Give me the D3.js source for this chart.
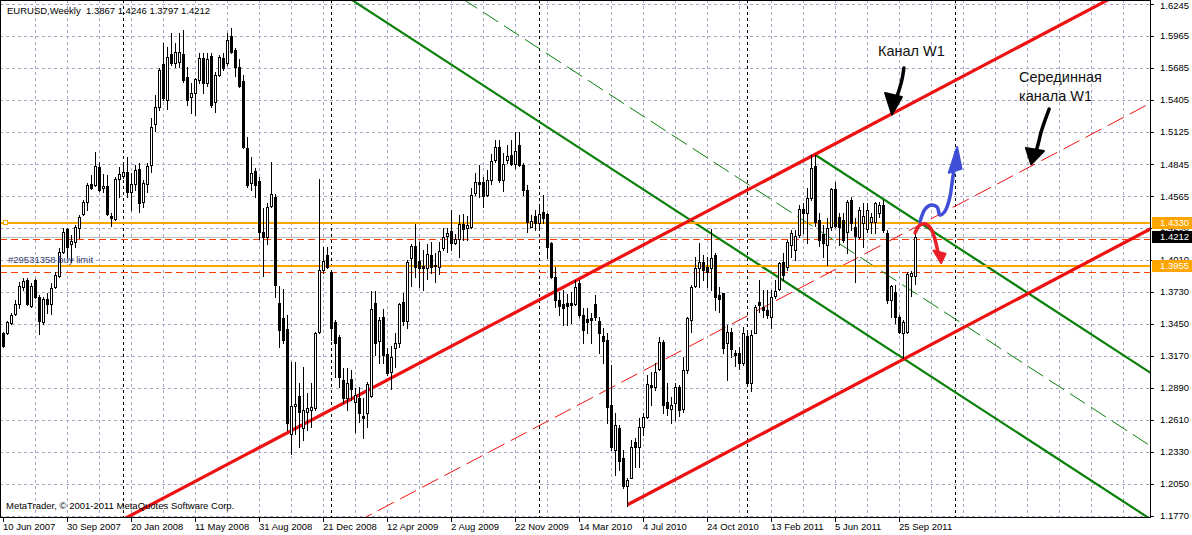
<!DOCTYPE html>
<html><head><meta charset="utf-8">
<script src="https://cdn.jsdelivr.net/npm/d3@7"></script>
<style>
html,body{margin:0;padding:0;background:#fff;}
svg{display:block;font-family:"Liberation Sans",Arial,sans-serif;}
text{white-space:pre;}
</style>
</head><body>
<svg id="c" width="1192" height="535"></svg>
<script>
// ---------------- DATA ----------------
const chartTitle = "EURUSD,Weekly  1.3867 1.4246 1.3797 1.4212";
const copyrightText = "MetaTrader, \u00a9 2001-2011 MetaQuotes Software Corp.";
const orderText = "#29531358 buy limit";

// weekly bars, index 0 = week of 10 Jun 2007
const opens = [1.3366,1.3366,1.3454,1.3533,1.3620,1.3769,1.3830,1.3603,1.3830,1.3681,
1.3463,1.3664,1.3620,1.3769,1.3865,1.4075,1.4276,1.4145,1.4163,1.4285,
1.4408,1.4513,1.4670,1.4661,1.4819,1.4635,1.4653,1.4390,1.4364,1.4714,
1.4740,1.4775,1.4600,1.4670,1.4801,1.4513,1.4670,1.4836,1.5195,1.5344,
1.5720,1.5405,1.5808,1.5729,1.5738,1.5808,1.5606,1.5431,1.5466,1.5580,
1.5773,1.5554,1.5790,1.5388,1.5624,1.5773,1.5729,1.5965,1.5843,1.5694,
1.5571,1.4985,1.4679,1.4784,1.4696,1.4250,1.4206,1.4478,1.4560,1.3629,
1.3500,1.3401,1.2491,1.2728,1.2815,1.2535,1.2675,1.2693,1.2710,1.3375,
1.3918,1.4049,1.3900,1.3463,1.3331,1.2955,1.2798,1.2964,1.2763,1.2798,
1.2640,1.2666,1.2815,1.3629,1.3296,1.3506,1.3183,1.3025,1.3235,1.3279,
1.3638,1.3471,1.4023,1.4128,1.3996,1.3953,1.3935,1.4049,1.3953,1.3944,
1.4110,1.4215,1.4259,1.4154,1.4189,1.4320,1.4285,1.4294,1.4591,1.4688,
1.4688,1.4574,1.4705,1.4880,1.4994,1.4705,1.4880,1.4924,1.4845,1.5011,
1.4836,1.4618,1.4294,1.4390,1.4329,1.4425,1.4408,1.4154,1.3856,1.3655,
1.3620,1.3629,1.3629,1.3620,1.3804,1.3524,1.3489,1.3498,1.3620,1.3471,
1.3340,1.3305,1.2736,1.2343,1.2535,1.2273,1.2036,1.2106,1.2413,1.2369,
1.2544,1.2631,1.2911,1.2894,1.3051,1.3288,1.2763,1.2701,1.2754,1.2894,
1.2701,1.3043,1.3480,1.3778,1.3935,1.3988,1.3944,1.3935,1.4049,1.3699,
1.3716,1.3279,1.3375,1.3191,1.3191,1.3104,1.3340,1.2929,1.3366,1.3638,
1.3594,1.3568,1.3506,1.3690,1.3751,1.3988,1.3944,1.4136,1.4093,1.4224,
1.4451,1.4416,1.4548,1.4828,1.4355,1.4233,1.4136,1.4294,1.4626,1.4381,
1.4355,1.4250,1.4530,1.4294,1.4206,1.4329,1.4276,1.4338,1.4338,1.4416,
1.4486,1.4241,1.3655,1.3725,1.3506,1.3366,1.3375,1.3865,1.3867];
const highs = [1.3375,1.3471,1.3541,1.3655,1.3813,1.3848,1.3848,1.3804,1.3839,1.3699,
1.3681,1.3716,1.3804,1.3900,1.4110,1.4285,1.4285,1.4224,1.4311,1.4399,
1.4530,1.4679,1.4749,1.4950,1.4863,1.4758,1.4749,1.4416,1.4731,1.4819,
1.4854,1.4906,1.4766,1.4836,1.4854,1.4705,1.4854,1.5248,1.5449,1.5685,
1.5904,1.5869,1.5991,1.5904,1.5991,1.6018,1.5694,1.5554,1.5598,1.5816,
1.5816,1.5816,1.5816,1.5650,1.5799,1.5816,1.5991,1.6035,1.5860,1.5764,
1.5624,1.5081,1.4906,1.4810,1.4731,1.4460,1.4504,1.4863,1.4580,1.3778,
1.3751,1.3524,1.3113,1.3113,1.2929,1.3069,1.2841,1.2929,1.3375,1.4714,
1.4119,1.4119,1.3909,1.3480,1.3349,1.3060,1.3060,1.3043,1.2885,1.2894,
1.2798,1.2938,1.3734,1.3734,1.3506,1.3576,1.3235,1.3253,1.3366,1.3629,
1.3716,1.4005,1.4145,1.4320,1.4163,1.4093,1.4145,1.4163,1.4066,1.4163,
1.4285,1.4285,1.4443,1.4233,1.4399,1.4408,1.4390,1.4635,1.4766,1.4836,
1.4731,1.4793,1.4933,1.5055,1.5055,1.4941,1.5011,1.5055,1.5125,1.5125,
1.4854,1.4661,1.4399,1.4443,1.4469,1.4574,1.4416,1.4163,1.3944,1.3725,
1.3743,1.3708,1.3725,1.3830,1.3830,1.3585,1.3585,1.3541,1.3699,1.3506,
1.3410,1.3366,1.3086,1.2666,1.2561,1.2343,1.2106,1.2430,1.2448,1.2623,
1.2666,1.2999,1.3025,1.3104,1.3331,1.3305,1.2929,1.2806,1.2929,1.2911,
1.3156,1.3506,1.3786,1.4031,1.4154,1.4049,1.4031,1.4276,1.4066,1.3769,
1.3716,1.3436,1.3410,1.3218,1.3244,1.3419,1.3366,1.3393,1.3611,1.3830,
1.3743,1.3743,1.3743,1.3830,1.3988,1.4066,1.4180,1.4268,1.4268,1.4486,
1.4504,1.4635,1.4924,1.4924,1.4416,1.4311,1.4373,1.4635,1.4688,1.4416,
1.4416,1.4530,1.4556,1.4373,1.4469,1.4504,1.4504,1.4416,1.4513,1.4513,
1.4530,1.4268,1.3786,1.3786,1.3524,1.3480,1.3900,1.3909,1.4246];
const lows = [1.3244,1.3358,1.3445,1.3524,1.3585,1.3743,1.3611,1.3594,1.3673,1.3358,
1.3445,1.3541,1.3533,1.3760,1.3856,1.4066,1.4023,1.3988,1.4119,1.4198,
1.4399,1.4443,1.4626,1.4653,1.4609,1.4600,1.4399,1.4303,1.4355,1.4556,
1.4723,1.4556,1.4443,1.4618,1.4425,1.4469,1.4600,1.4775,1.5134,1.5318,
1.5405,1.5326,1.5711,1.5694,1.5694,1.5563,1.5361,1.5291,1.5274,1.5554,
1.5466,1.5528,1.5344,1.5300,1.5615,1.5668,1.5711,1.5816,1.5615,1.5519,
1.4985,1.4644,1.4618,1.4556,1.4189,1.3865,1.4145,1.4469,1.3681,1.3244,
1.3279,1.2518,1.2316,1.2491,1.2369,1.2430,1.2518,1.2544,1.2693,1.3366,
1.3891,1.3935,1.3305,1.2981,1.2894,1.2754,1.2693,1.2780,1.2500,1.2588,
1.2448,1.2544,1.2806,1.3174,1.3104,1.3104,1.2999,1.2876,1.3069,1.3244,
1.3436,1.3410,1.3778,1.3856,1.3769,1.3743,1.3839,1.3891,1.3813,1.3883,
1.4093,1.4075,1.4093,1.4145,1.4031,1.4180,1.4180,1.4285,1.4574,1.4556,
1.4469,1.4565,1.4670,1.4863,1.4688,1.4609,1.4854,1.4836,1.4810,1.4828,
1.4574,1.4250,1.4294,1.4268,1.4294,1.4329,1.4023,1.3848,1.3594,1.3524,
1.3436,1.3436,1.3454,1.3611,1.3506,1.3279,1.3366,1.3279,1.3480,1.3191,
1.3104,1.2579,1.2343,1.2124,1.2168,1.2019,1.1861,1.2098,1.2194,1.2194,
1.2474,1.2623,1.2736,1.2868,1.3043,1.2666,1.2649,1.2579,1.2605,1.2640,
1.2675,1.3016,1.3375,1.3769,1.3769,1.3830,1.3769,1.3743,1.3568,1.3550,
1.3191,1.2955,1.3156,1.3078,1.3051,1.3086,1.2920,1.2859,1.3366,1.3550,
1.3506,1.3498,1.3410,1.3673,1.3743,1.3830,1.3918,1.4031,1.4005,1.4206,
1.4241,1.4154,1.4530,1.4303,1.4128,1.4031,1.3961,1.4268,1.4294,1.4136,
1.4163,1.4066,1.4268,1.3813,1.4198,1.4119,1.4250,1.4241,1.4241,1.4381,
1.4250,1.3629,1.3506,1.3454,1.3366,1.3148,1.3366,1.3690,1.3797];
const closes = [1.3253,1.3463,1.3524,1.3620,1.3778,1.3821,1.3620,1.3778,1.3681,1.3471,
1.3664,1.3620,1.3760,1.3874,1.4075,1.4250,1.4119,1.4171,1.4294,1.4381,
1.4513,1.4661,1.4635,1.4828,1.4618,1.4653,1.4408,1.4373,1.4714,1.4758,
1.4775,1.4600,1.4670,1.4793,1.4504,1.4679,1.4828,1.5169,1.5344,1.5668,
1.5423,1.5781,1.5729,1.5825,1.5825,1.5580,1.5405,1.5466,1.5589,1.5773,
1.5554,1.5764,1.5361,1.5624,1.5781,1.5685,1.5930,1.5825,1.5694,1.5528,
1.4994,1.4661,1.4766,1.4661,1.4250,1.4206,1.4469,1.4580,1.3786,1.3393,
1.3305,1.2579,1.2728,1.2745,1.2675,1.2693,1.2710,1.2719,1.3366,1.3918,
1.3996,1.3944,1.3410,1.3279,1.2981,1.2798,1.2929,1.2876,1.2824,1.2666,
1.2623,1.2920,1.3576,1.3279,1.3480,1.3174,1.3016,1.3156,1.3279,1.3620,
1.3471,1.3988,1.4128,1.3944,1.3935,1.3935,1.4058,1.3944,1.3961,1.4084,
1.4206,1.4241,1.4154,1.4189,1.4320,1.4276,1.4311,1.4574,1.4688,1.4670,
1.4565,1.4705,1.4871,1.4994,1.4705,1.4845,1.4915,1.4845,1.4959,1.4836,
1.4618,1.4338,1.4346,1.4329,1.4408,1.4373,1.4119,1.3856,1.3655,1.3603,
1.3585,1.3603,1.3611,1.3769,1.3524,1.3393,1.3463,1.3480,1.3506,1.3366,
1.3296,1.2719,1.2369,1.2561,1.2255,1.2036,1.2089,1.2369,1.2369,1.2544,
1.2631,1.2920,1.2894,1.3025,1.3288,1.2736,1.2710,1.2736,1.2894,1.2693,
1.3043,1.3498,1.3769,1.3935,1.3988,1.3918,1.3900,1.4023,1.3681,1.3664,
1.3235,1.3375,1.3226,1.3174,1.3104,1.3366,1.2929,1.3349,1.3594,1.3611,
1.3568,1.3524,1.3681,1.3734,1.3979,1.3874,1.4163,1.4241,1.4215,1.4451,
1.4416,1.4548,1.4810,1.4338,1.4180,1.4154,1.4285,1.4626,1.4303,1.4294,
1.4180,1.4513,1.4329,1.4215,1.4443,1.4390,1.4443,1.4381,1.4504,1.4486,
1.4268,1.3655,1.3778,1.3506,1.3375,1.3463,1.3883,1.3891,1.4212];

const dateTickIndex = [0,16,32,48,64,80,96,112,128,144,160,176,192,208,224];
const dateTickLabels = ["10 Jun 2007","30 Sep 2007","20 Jan 2008","11 May 2008","31 Aug 2008",
"21 Dec 2008","12 Apr 2009","2 Aug 2009","22 Nov 2009","14 Mar 2010","4 Jul 2010",
"24 Oct 2010","13 Feb 2011","5 Jun 2011","25 Sep 2011"];
const yearStartIndex = [30,82,134,186,238];
const priceTickLabels = ["1.6245","1.5965","1.5685","1.5405","1.5125","1.4845","1.4565","1.4290",
"1.4010","1.3730","1.3450","1.3170","1.2890","1.2610","1.2330","1.2050","1.1770"];

const orderLevels = [1.4330, 1.3955];
const stopLevels = [1.4195, 1.3900];
const bidPrice = 1.4212;

// red channel (Канал W1): base line anchors, parallel offset, lower line start bar
const redBase = [[32,1.1779],[228,1.5394]];
const redWidth = 0.2198;
const redLowerStart = 156;
// green descending channel
const greenBase = [[100,1.5987],[228,1.3078]];
const greenWidth = 0.1279;
const greenUpperStart = 203;

// hand-drawn annotations (bar index, price)
const blueArrow = [[229.1,1.4340],[230.4,1.4453],[231.9,1.4488],[233.4,1.4471],[234.1,1.4401],[235.4,1.4436],[236.6,1.4558],[237.1,1.4672],[237.6,1.4794],[238.1,1.4951]];
const blueHead = [[238.4,1.4995],[236.3,1.4770],[239.5,1.4805]];
const redArrow = [[227.9,1.4244],[229.1,1.4313],[230.6,1.4322],[231.9,1.4278],[232.9,1.4182],[233.6,1.4077]];
const redHead = [[234.4,1.3981],[232.5,1.4090],[235.5,1.4062]];
const blackArrow1 = [[225.1,1.5686],[224.6,1.5581],[223.9,1.5493],[223.1,1.5406],[222.4,1.5319]];
const blackHead1 = [[222.1,1.5280],[220.4,1.5467],[224.6,1.5432]];
const blackArrow2 = [[261.4,1.5327],[260.4,1.5231],[259.4,1.5126],[258.6,1.5013],[257.6,1.4899]];
const blackHead2 = [[256.9,1.4845],[255.6,1.4986],[260.1,1.4960]];
const annoLabels = ["Канал W1","Серединная","канала W1"];

// ---------------- DRAW ----------------
const W = 1192, H = 535, plotR = 1150, plotB = 517;
const svg = d3.select("#c");
const x = d3.scaleLinear().domain([0, 1]).range([3.5, 7.5]);
const y = d3.scaleLinear().domain([1.1770, 1.6245]).range([516, 4]);
const snap = v => Math.round(v) + 0.5;
const FS = 9.5;

svg.append("rect").attr("width", W).attr("height", H).attr("fill", "#fff");
svg.append("defs").append("clipPath").attr("id", "plot")
  .append("rect").attr("x", 0).attr("y", 0).attr("width", plotR).attr("height", plotB);
const g = svg.append("g").attr("clip-path", "url(#plot)");

// grid
const priceTickValues = priceTickLabels.map(Number);
g.append("g").selectAll("line").data(priceTickValues).join("line")
  .attr("x1", 0).attr("x2", plotR)
  .attr("y1", d => snap(y(d))).attr("y2", d => snap(y(d)))
  .attr("stroke", "#aaa6c4").attr("stroke-dasharray", "3,3");
g.append("g").selectAll("line").data(d3.range(8, 290, 8)).join("line")
  .attr("x1", d => x(d)).attr("x2", d => x(d)).attr("y1", 0).attr("y2", plotB)
  .attr("stroke", "#aaa6c4").attr("stroke-dasharray", "3,3");
// year separators
g.append("g").selectAll("line").data(yearStartIndex).join("line")
  .attr("x1", d => x(d)).attr("x2", d => x(d)).attr("y1", 0).attr("y2", plotB)
  .attr("stroke", "#000").attr("stroke-dasharray", "3,3");

// horizontal trade levels
g.append("line").attr("x1", 0).attr("x2", plotR).attr("y1", snap(y(bidPrice))).attr("y2", snap(y(bidPrice)))
  .attr("stroke", "#c0c0c0");
g.append("g").selectAll("line").data(stopLevels).join("line")
  .attr("x1", 0).attr("x2", plotR).attr("y1", d => snap(y(d))).attr("y2", d => snap(y(d)))
  .attr("stroke", "#ff3c00").attr("stroke-dasharray", "7,4");

// channel lines
function priceOn(base, i) {
  const [[i1, p1], [i2, p2]] = base;
  return p1 + (i - i1) * (p2 - p1) / (i2 - i1);
}
const iLeft = x.invert(-20), iRight = x.invert(plotR + 20);
function drawChannelLine(base, offset, fromI, color, width, dash) {
  const l = g.append("line")
    .attr("x1", x(fromI)).attr("y1", y(priceOn(base, fromI) + offset))
    .attr("x2", x(iRight)).attr("y2", y(priceOn(base, iRight) + offset))
    .attr("stroke", color).attr("stroke-width", width);
  if (dash) l.attr("stroke-dasharray", dash);
}
drawChannelLine(greenBase, greenWidth / 2, iLeft, "#0a800a", 1, "18,7");
drawChannelLine(redBase, -redWidth / 2, iLeft, "#ee1111", 1, "18,7");
drawChannelLine(greenBase, 0, iLeft, "#0a800a", 2.2);
drawChannelLine(greenBase, greenWidth, greenUpperStart, "#0a800a", 2.2);

// orange order lines
g.append("g").selectAll("line").data(orderLevels).join("line")
  .attr("x1", 0).attr("x2", plotR).attr("y1", d => Math.round(y(d))).attr("y2", d => Math.round(y(d)))
  .attr("stroke", "#ffa500").attr("stroke-width", 2);
g.append("rect").attr("x", 3.5).attr("y", Math.round(y(orderLevels[0])) - 2.5).attr("width", 4).attr("height", 4)
  .attr("fill", "#fff").attr("stroke", "#ffa500");

drawChannelLine(redBase, 0, iLeft, "#ee1111", 3.2);
drawChannelLine(redBase, -redWidth, redLowerStart, "#ee1111", 3.2);

// candles
const bars = opens.map((o, i) => ({ i, o, h: highs[i], l: lows[i], c: closes[i] }));
const cg = g.append("g");
cg.selectAll("line").data(bars).join("line")
  .attr("x1", d => x(d.i)).attr("x2", d => x(d.i))
  .attr("y1", d => Math.round(y(d.h))).attr("y2", d => Math.round(y(d.l)) + 1)
  .attr("stroke", "#000");
cg.selectAll("rect").data(bars).join("rect")
  .each(function (d) {
    const top = Math.round(y(Math.max(d.o, d.c)));
    const bot = Math.round(y(Math.min(d.o, d.c)));
    const s = d3.select(this);
    if (d.c >= d.o) {
      s.attr("x", x(d.i) - 1).attr("y", top + 0.5).attr("width", 2).attr("height", Math.max(bot - top, 1))
        .attr("fill", "#fff").attr("stroke", "#000");
    } else {
      s.attr("x", x(d.i) - 1.5).attr("y", top).attr("width", 3).attr("height", Math.max(bot - top + 1, 1))
        .attr("fill", "#000");
    }
  });

// annotations
const pt = d => [x(d[0]), y(d[1])];
const curve = d3.line().x(d => x(d[0])).y(d => y(d[1])).curve(d3.curveCatmullRom);
function arrow(path, head, color) {
  g.append("path").attr("d", curve(path)).attr("fill", "none").attr("stroke", color)
    .attr("stroke-width", 3.5).attr("stroke-linecap", "round").attr("stroke-linejoin", "round");
  g.append("polygon").attr("points", head.map(pt).map(p => p.join(",")).join(" "))
    .attr("fill", color).attr("stroke", color).attr("stroke-width", 2).attr("stroke-linejoin", "round");
}
arrow(blueArrow, blueHead, "#3f4fd6");
arrow(redArrow, redHead, "#e8202a");
arrow(blackArrow1, blackHead1, "#000");
arrow(blackArrow2, blackHead2, "#000");

g.append("text").attr("x", 878).attr("y", 56).attr("font-size", 14.5).attr("fill", "#111").text(annoLabels[0]);
g.append("text").attr("x", 1019).attr("y", 82).attr("font-size", 14.5).attr("fill", "#111").text(annoLabels[1]);
g.append("text").attr("x", 1019).attr("y", 101).attr("font-size", 14.5).attr("fill", "#111").text(annoLabels[2]);

// texts inside chart
g.append("text").attr("x", 7).attr("y", 14).attr("font-size", FS).attr("fill", "#000").text(chartTitle);
g.append("text").attr("x", 8).attr("y", Math.round(y(orderLevels[1])) - 3).attr("font-size", FS).attr("fill", "#34406a").text(orderText);
g.append("text").attr("x", 6).attr("y", 509).attr("font-size", FS).attr("fill", "#000").text(copyrightText);

// frame
svg.append("rect").attr("x", 0.5).attr("y", 0.5).attr("width", plotR).attr("height", plotB)
  .attr("fill", "none").attr("stroke", "#000");

// right axis
const ra = svg.append("g");
ra.selectAll("line").data(priceTickValues).join("line")
  .attr("x1", plotR).attr("x2", plotR + 4).attr("y1", d => snap(y(d))).attr("y2", d => snap(y(d)))
  .attr("stroke", "#000");
ra.selectAll("text").data(priceTickLabels).join("text")
  .attr("x", 1160).attr("y", d => Math.max(y(+d), 6)).attr("dy", "0.35em")
  .attr("font-size", FS).attr("fill", "#000").text(d => d);

// price boxes
const boxes = [
  { p: orderLevels[0], bg: "#ffa500" },
  { p: bidPrice, bg: "#000" },
  { p: orderLevels[1], bg: "#ffa500" }
];
const bx = svg.append("g").selectAll("g").data(boxes).join("g");
bx.append("rect").attr("x", plotR + 2).attr("y", d => Math.round(y(d.p)) - 6).attr("width", W - plotR - 2).attr("height", 12)
  .attr("fill", d => d.bg);
bx.append("text").attr("x", 1160).attr("y", d => y(d.p)).attr("dy", "0.35em")
  .attr("font-size", FS).attr("fill", "#fff").text(d => d.p.toFixed(4));

// bottom axis
const ba = svg.append("g");
ba.selectAll("line").data(dateTickIndex).join("line")
  .attr("x1", d => x(d)).attr("x2", d => x(d)).attr("y1", plotB).attr("y2", plotB + 5)
  .attr("stroke", "#000");
ba.selectAll("text").data(dateTickIndex).join("text")
  .attr("x", d => x(d) - 0.5).attr("y", 530)
  .attr("font-size", FS).attr("fill", "#000").text((d, k) => dateTickLabels[k]);
</script>
</body></html>
